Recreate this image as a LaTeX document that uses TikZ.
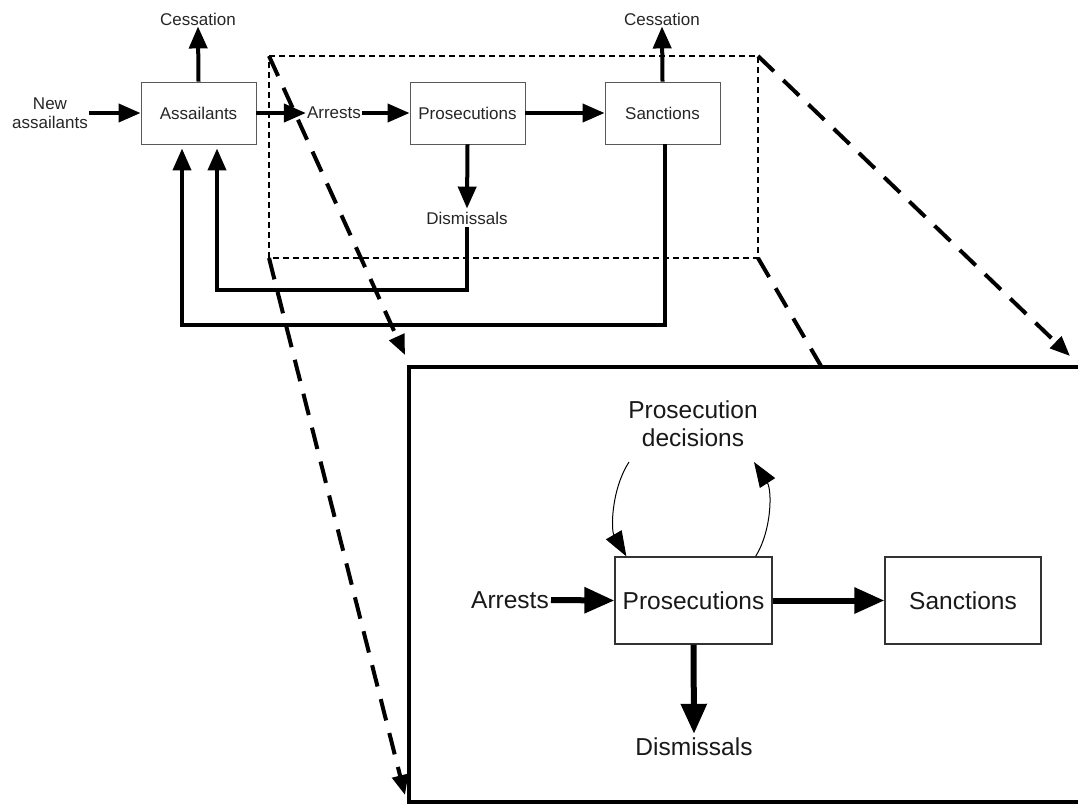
\documentclass[tikz,border=0pt]{standalone}
\usepackage{fontspec}
\setmainfont{Liberation Sans}
\usetikzlibrary{arrows.meta}
\newcommand{\smallf}{\fontsize{17}{20}\selectfont}
\newcommand{\bigf}{\fontsize{24.5}{28}\selectfont}
\tikzset{
  sbox/.style={draw=black!65, line width=0.9pt, minimum width=115pt, minimum height=62pt, inner sep=0pt, font=\smallf, text=black!85},
  bbox/.style={draw=black!80, line width=1.3pt, minimum width=157pt, minimum height=87pt, inner sep=0pt, font=\bigf, text=black!90},
  lbl/.style={font=\smallf, inner sep=1pt, text=black!85, align=center},
  blbl/.style={font=\bigf, inner sep=2pt, text=black!90, align=center},
  flow/.style={line width=4pt, -{Triangle[length=22pt,width=18pt]}},
  bflow/.style={line width=6pt, -{Triangle[length=30pt,width=25pt]}},
  curvearr/.style={line width=1pt, -{Triangle[length=25pt,width=18pt]}},
  zoomline/.style={line width=4pt, dash pattern=on 22pt off 13pt, -{Triangle[length=20pt,width=16pt]}},
  zoomplain/.style={line width=4pt, dash pattern=on 22pt off 13pt},
  thindash/.style={line width=1.3pt, dash pattern=on 6pt off 4pt}
}
\begin{document}
\begin{tikzpicture}[x=1pt,y=-1pt]
\useasboundingbox (0,0) rectangle (1078,804);
\fill[white] (0,0) rectangle (1078,804);
% top diagram
\node[sbox] (ass) at (198.5,113) {Assailants};
\node[sbox] (pro) at (467.5,113) {Prosecutions};
\node[sbox] (san) at (662.5,113) {Sanctions};
\node[lbl] (ces1) at (198,19) {Cessation};
\node[lbl] (ces2) at (662,19) {Cessation};
\node[lbl] (new) at (50,113) {New\\[-1pt]assailants};
\node[lbl] (arr) at (334,113) {Arrests};
\node[lbl,inner sep=3pt] (dis) at (467,218) {Dismissals};

\draw[flow] (ass.north) -- (ces1.south);
\draw[flow] (san.north) -- (ces2.south);
\draw[flow] (new.east |- ass.west) -- (ass.west);
\draw[flow] (ass.east) -- (arr.west);
\draw[flow] (arr.east) -- (pro.west);
\draw[flow] (pro.east) -- (san.west);
\draw[flow] (pro.south) -- (dis.north);
\draw[flow, shorten >=4pt] (dis.south) -- (dis.south |- 0,290) -| ([xshift=18.5pt]ass.south);
\draw[flow, shorten >=4pt] ([xshift=2.5pt]san.south) -- ([xshift=2.5pt]san.south |- 0,325) -| ([xshift=-16.5pt]ass.south);

% dashed zoom frame
\coordinate (rtl) at (269,56);
\coordinate (rtr) at (758,56);
\coordinate (rbl) at (269,258);
\coordinate (rbr) at (758,258);
\draw[thindash] (rtl) -- (rtr) -- (rbr) -- (rbl) -- cycle;

% big box
\coordinate (btl) at (409,367);
\coordinate (bbl) at (409,802);
\coordinate (btr) at (1080,367);
\coordinate (bbr) at (1080,802);
\draw[line width=4pt] (btr) -- (btl) -- (bbl) -- (bbr);

% zoom lines
\coordinate (t1) at (405,355);
\coordinate (t2) at (405,795);
\coordinate (t3) at (1070,356);
\coordinate (t4) at (821,366);
\draw[zoomline] (rtl) -- (t1);
\draw[zoomline] (rbl) -- (t2);
\draw[zoomline] (rtr) -- (t3);
\draw[zoomplain] (rbr) -- (t4);

% big diagram
\node[bbox] (bpro) at (693.5,600.5) {Prosecutions};
\node[bbox, minimum width=156pt] (bsan) at (963,600.5) {Sanctions};
\node[blbl] (barr) at (510,600) {Arrests};
\node[blbl] (pd) at (693,424) {Prosecution\\decisions};
\node[blbl,inner sep=4pt] (bdis) at (694,747) {Dismissals};

\draw[bflow] (barr.east) -- (bpro.west);
\draw[bflow] (bpro.east) -- (bsan.west);
\draw[bflow] (bpro.south) -- (bdis.north);

\coordinate (c1) at (629,462);
\coordinate (c2) at (754,462);
\draw[curvearr] (c1) .. controls (611,490) and (611,530) .. ([xshift=12pt]bpro.north west);
\draw[curvearr] ([xshift=-17pt]bpro.north east) .. controls (772,530) and (772,490) .. (c2);
\end{tikzpicture}
\end{document}
